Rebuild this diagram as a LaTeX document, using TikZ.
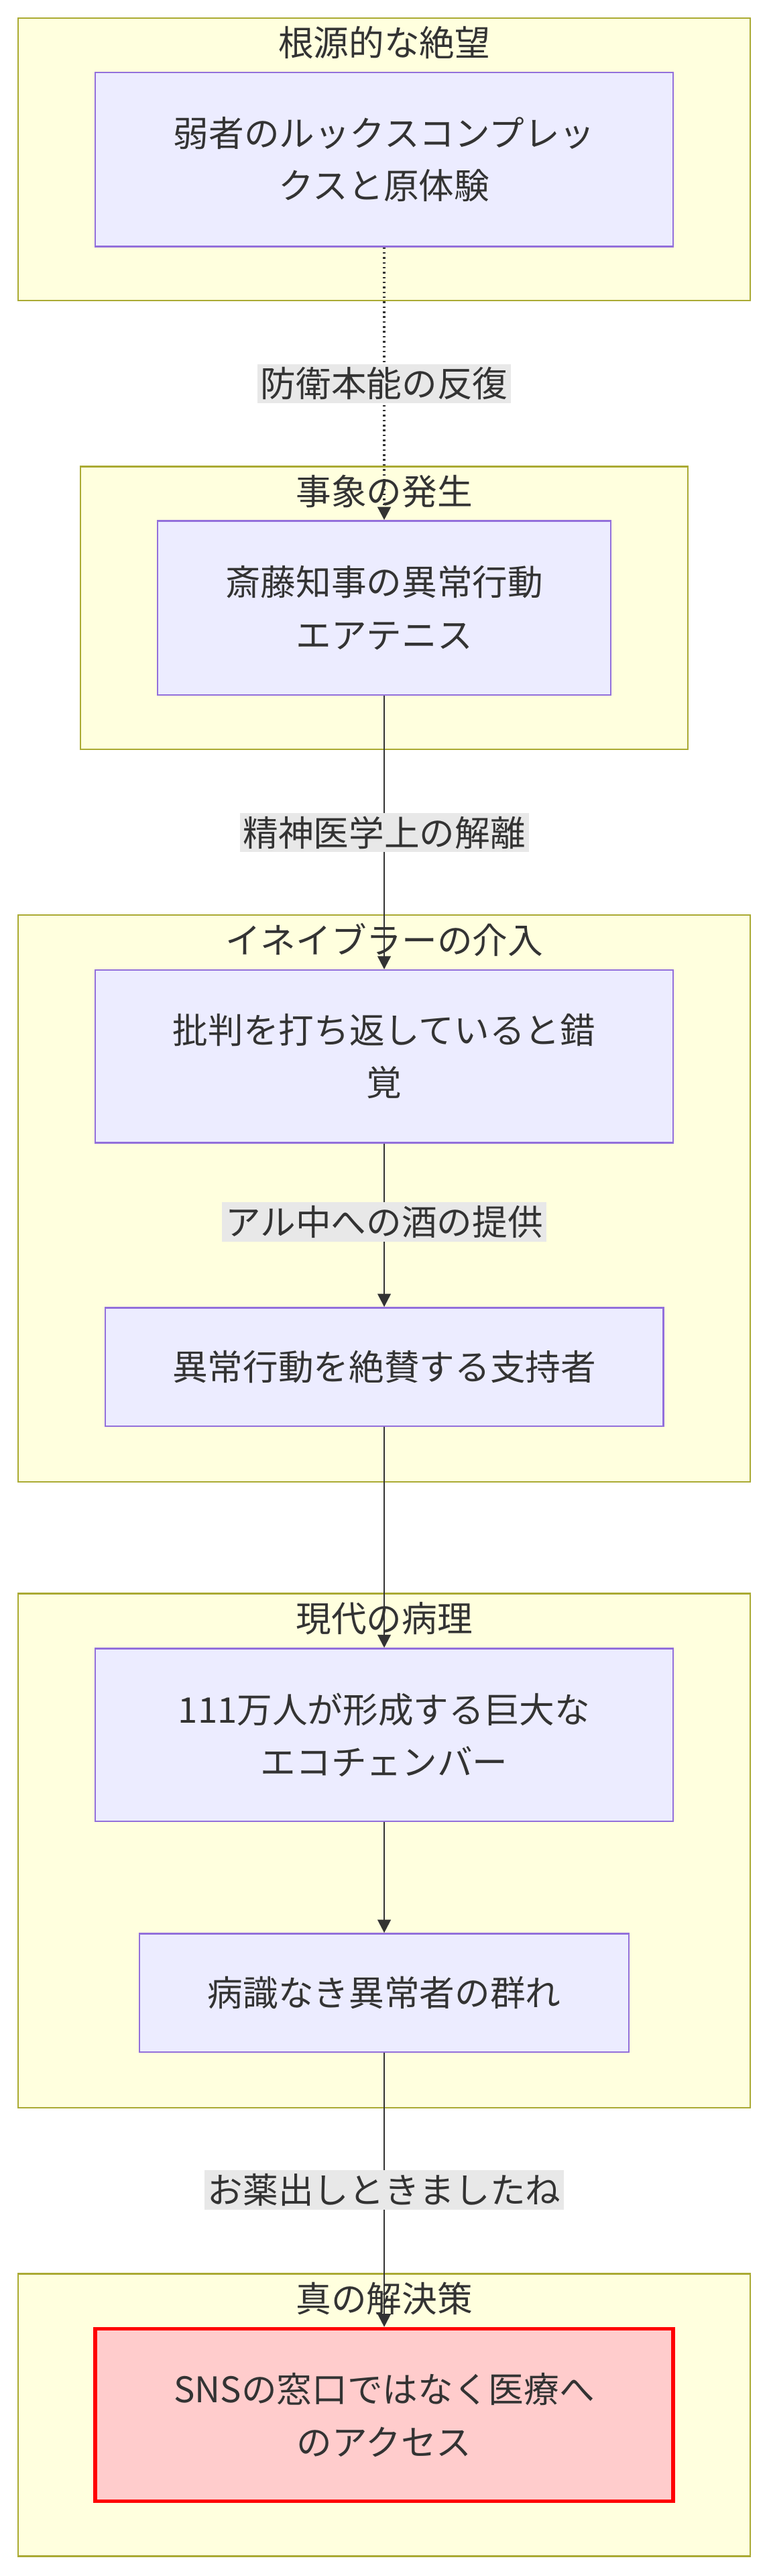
\documentclass[tikz,border=0pt]{standalone}
\usepackage{fontspec}
\setmainfont{Noto Sans CJK JP}
\usetikzlibrary{arrows.meta}
\definecolor{clf}{HTML}{FFFFDE}
\definecolor{cld}{HTML}{AAAA33}
\definecolor{ndf}{HTML}{ECECFF}
\definecolor{ndd}{HTML}{9370DB}
\definecolor{lbf}{HTML}{E8E8E8}
\begin{document}
\begin{tikzpicture}[x=1pt,y=-1pt,
  every node/.style={font=\fontsize{21.5}{32}\selectfont, text=black!80},
  cl/.style={draw=cld, fill=clf, line width=1pt},
  nd/.style={draw=ndd, fill=ndf, line width=1pt, align=center, inner sep=0},
  bad/.style={draw=red, fill=red!20, line width=2.2pt, align=center, inner sep=0},
  lb/.style={fill=lbf, inner sep=2pt},
  ar/.style={-{Triangle[length=8pt,width=8pt]}, draw=black!80, line width=1pt}]
\useasboundingbox (0,0) rectangle (468,1568);
% clusters
\draw[cl] (11,11) rectangle (457,183);
\node at (234,26) {根源的な絶望};
\draw[cl] (49,284) rectangle (419,456);
\node at (234,299) {事象の発生};
\draw[cl] (11,557) rectangle (457,902);
\node at (234,572) {イネイブラーの介入};
\draw[cl] (11,970) rectangle (457,1283);
\node at (234,985) {現代の病理};
\draw[cl] (11,1384) rectangle (457,1556);
\node at (234,1399) {真の解決策};
% nodes
\node[nd, minimum width=352, minimum height=106] (a) at (234,97) {弱者のルックスコンプレッ\\クスと原体験};
\node[nd, minimum width=276, minimum height=106] (b) at (234,370) {斎藤知事の異常行動\\エアテニス};
\node[nd, minimum width=352, minimum height=105] (c) at (234,643) {批判を打ち返していると錯\\覚};
\node[nd, minimum width=340, minimum height=72] (d) at (234,832) {異常行動を絶賛する支持者};
\node[nd, minimum width=352, minimum height=105] (e) at (234,1056) {111万人が形成する巨大な\\エコチェンバー};
\node[nd, minimum width=298, minimum height=72] (f) at (234,1213) {病識なき異常者の群れ};
\node[bad, minimum width=352, minimum height=105] (g) at (234,1470) {SNSの窓口ではなく医療へ\\のアクセス};
% edges
\draw[ar, dotted, line width=1.4pt] (a) -- (b) node[lb, pos=0.5, solid] {防衛本能の反復};
\draw[ar] (b) -- (c) node[lb, pos=0.5] {精神医学上の解離};
\draw[ar] (c) -- (d) node[lb, pos=0.48] {アル中への酒の提供};
\draw[ar] (d) -- (e);
\draw[ar] (e) -- (f);
\draw[ar] (f) -- (g) node[lb, pos=0.5] {お薬出しときましたね};
\end{tikzpicture}
\end{document}
